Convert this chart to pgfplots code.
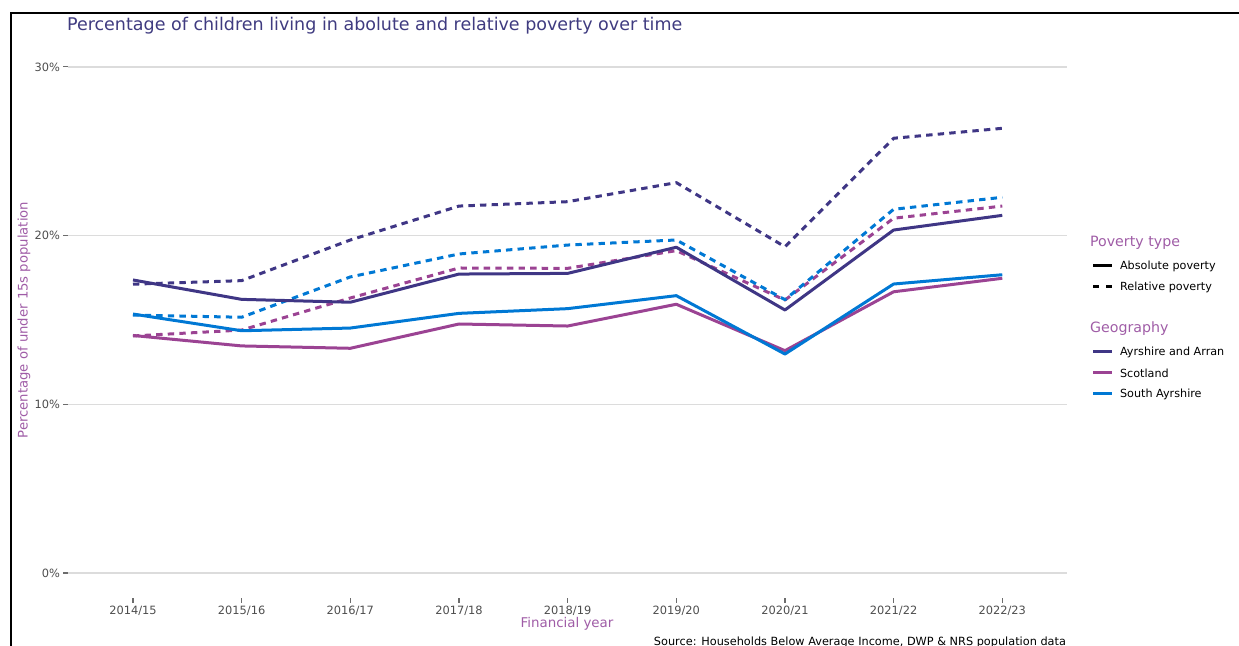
\documentclass[border=0pt]{standalone}
\usepackage{pgfplots}
\pgfplotsset{compat=1.18}
\usepackage{pgfplotstable}
\usepackage{fontspec}
\setmainfont{DejaVu Sans}
\definecolor{aa}{HTML}{3F3685}
\definecolor{sc}{HTML}{9B4393}
\definecolor{sa}{HTML}{0078D4}
\definecolor{ttl}{HTML}{3F3B80}
\definecolor{lab}{HTML}{9F5CA6}
\definecolor{tickc}{HTML}{4D4D4D}
\definecolor{gridc}{HTML}{DCDCDC}

\pgfplotstableread{
x AAabs AArel Sabs Srel SAabs SArel
0 17.37 17.12 14.08 14.05 15.35 15.29
1 16.22 17.33 13.46 14.40 14.36 15.16
2 16.05 19.74 13.32 16.30 14.52 17.55
3 17.72 21.75 14.76 18.08 15.39 18.91
4 17.76 22.01 14.64 18.06 15.67 19.44
5 19.31 23.14 15.93 19.11 16.44 19.74
6 15.59 19.34 13.18 16.18 12.98 16.20
7 20.33 25.77 16.67 21.03 17.13 21.56
8 21.20 26.36 17.47 21.75 17.68 22.27
}\povdata

\begin{document}
\begin{tikzpicture}
\useasboundingbox (0,0) rectangle (619.5pt,-323pt);
\begin{axis}[
  at={(33.9pt,-299.15pt)}, anchor=south west, scale only axis,
  width=499.85pt, height=278.35pt,
  xmin=-0.6, xmax=8.6, ymin=-1.5, ymax=31.5,
  axis line style={draw=none},
  xtick={0,1,2,3,4,5,6,7,8},
  xticklabels={2014/15,2015/16,2016/17,2017/18,2018/19,2019/20,2020/21,2021/22,2022/23},
  ytick={0,10,20,30}, yticklabels={0\%,10\%,20\%,30\%},
  ymajorgrids, grid style={gridc, line width=0.7pt},
  tick align=outside, tick pos=left, major tick length=2.2pt,
  tick style={color=gray!85!black, line width=0.55pt},
  ticklabel style={font=\fontsize{5.7}{6}\selectfont, text=tickc},
  xticklabel style={inner sep=1.5pt},
  yticklabel style={inner sep=1.5pt},
  /pgf/number format/assume math mode=true,
  every axis plot/.append style={line width=1.5pt, line join=round},
]
\addplot[sc, dash pattern=on 3.2pt off 2.6pt] table[x=x,y=Srel] {\povdata};
\addplot[sa, dash pattern=on 3.2pt off 2.6pt] table[x=x,y=SArel] {\povdata};
\addplot[aa, dash pattern=on 3.2pt off 2.6pt] table[x=x,y=AArel] {\povdata};
\addplot[sc] table[x=x,y=Sabs] {\povdata};
\addplot[sa] table[x=x,y=SAabs] {\povdata};
\addplot[aa] table[x=x,y=AAabs] {\povdata};
\end{axis}
\begin{scope}[x=0.5pt,y=-0.5pt]
  \draw[black, line width=1pt] (11,660) -- (11,13) -- (1250,13);
  \node[anchor=west, text=ttl, font=\fontsize{8.75}{10}\selectfont] at (60,26) {Percentage of children living in abolute and relative poverty over time};
  \node[rotate=90, text=lab, font=\fontsize{6.6}{7}\selectfont] at (24,320) {Percentage of under 15s population};
  \node[text=lab, font=\fontsize{6.7}{7}\selectfont] at (567,624) {Financial year};
  \node[anchor=east, text=black, font=\fontsize{5.65}{6}\selectfont] at (1073,642) {Source: Households Below Average Income, DWP \& NRS population data};
  % legend
  \node[anchor=west, text=lab, font=\fontsize{7.1}{8}\selectfont] at (1083,243) {Poverty type};
  \draw[black, line width=1.5pt] (1093,266) -- (1112,266);
  \draw[black, line width=1.5pt, dash pattern=on 3pt off 3.5pt] (1093,287) -- (1113,287);
  \node[anchor=west, font=\fontsize{5.6}{6}\selectfont] at (1113,266) {Absolute poverty};
  \node[anchor=west, font=\fontsize{5.6}{6}\selectfont] at (1113,287) {Relative poverty};
  \node[anchor=west, text=lab, font=\fontsize{7.1}{8}\selectfont] at (1083,329) {Geography};
  \draw[aa, line width=1.5pt] (1093,352) -- (1112,352);
  \draw[sc, line width=1.5pt] (1093,373) -- (1112,373);
  \draw[sa, line width=1.5pt] (1093,394) -- (1112,394);
  \node[anchor=west, font=\fontsize{5.6}{6}\selectfont] at (1113,352) {Ayrshire and Arran};
  \node[anchor=west, font=\fontsize{5.6}{6}\selectfont] at (1113,373) {Scotland};
  \node[anchor=west, font=\fontsize{5.6}{6}\selectfont] at (1113,394) {South Ayrshire};
\end{scope}
\end{tikzpicture}
\end{document}
